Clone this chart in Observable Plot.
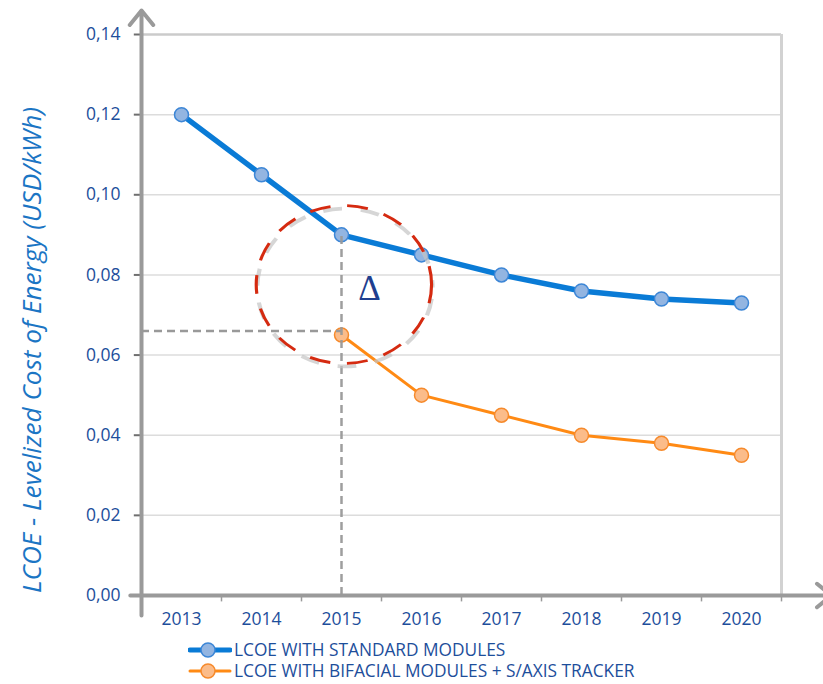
<!DOCTYPE html>
<html><head><meta charset="utf-8">
<script src="https://cdn.jsdelivr.net/npm/d3@7"></script>
<script src="https://cdn.jsdelivr.net/npm/@observablehq/plot@0.6"></script>
<style>
body{margin:0;background:#fff;font-family:"Open Sans",sans-serif;}
#wrap{position:relative;width:823px;height:684px;overflow:hidden;}
.leg{position:absolute;left:188px;height:18px;display:flex;align-items:center;font-size:17.3px;line-height:18px;color:#1d4e9b;white-space:nowrap;}
.leg svg{margin-right:2px;}
#ylab{position:absolute;white-space:nowrap;font-style:italic;color:#1b75c4;font-size:21.5px;line-height:1;transform-origin:0 0;}
</style></head><body><div id="wrap"></div>
<script>
const years = [2013, 2014, 2015, 2016, 2017, 2018, 2019, 2020];
const standard = [0.120, 0.105, 0.090, 0.085, 0.080, 0.076, 0.074, 0.073];
const bifacialYears = [2015, 2016, 2017, 2018, 2019, 2020];
const bifacial = [0.065, 0.050, 0.045, 0.040, 0.038, 0.035];
const yTicks = [0, 0.02, 0.04, 0.06, 0.08, 0.10, 0.12, 0.14];
const seriesNames = ["LCOE WITH STANDARD MODULES", "LCOE WITH BIFACIAL MODULES + S/AXIS TRACKER"];
const seriesColors = ["#0a7bd6", "#ff8a14"];
const dotFill = ["#93b5e1", "#fbbc8a"];
const dotStroke = ["#3d86d6", "#f68a2c"];
const yLabel = "LCOE - Levelized Cost of Energy (USD/kWh)";
const refYear = 2015, refValue = 0.066, refTop = 0.090;
const deltaLabel = "Δ";

const stdData = years.map((x, i) => ({x, y: standard[i]}));
const bifData = bifacialYears.map((x, i) => ({x, y: bifacial[i]}));
const x0 = years[0] - 0.5, x1 = years[years.length - 1] + 0.5;
const bounds = years.map(y => y + 0.5);
const fmt = d => d.toFixed(2).replace(".", ",");
const tickBlue = "#1d4e9b";
const ell = {x: refYear + 0.03, y: 0.0776};

const chart = Plot.plot({
  width: 823, height: 628,
  marginTop: 34, marginBottom: 33, marginLeft: 141, marginRight: 42,
  style: {fontFamily: "'Open Sans', sans-serif", background: "#fff", overflow: "visible"},
  x: {domain: [x0, x1], axis: null},
  y: {domain: [0, 0.14], axis: null},
  marks: [
    Plot.ruleY(yTicks.slice(1, -1), {x1: x0, x2: x1, stroke: "#dcdcdc", strokeWidth: 1.5}),
    Plot.ruleY([yTicks[yTicks.length - 1]], {x1: x0, x2: x1, stroke: "#cbcbcb", strokeWidth: 2.5}),
    Plot.ruleX([x1], {y1: 0, y2: 0.14, stroke: "#d2d2d2", strokeWidth: 3}),
    Plot.ruleX(bounds, {y1: 0, y2: -0.0016, stroke: "#9a9a9a", strokeWidth: 1.5}),
    Plot.ruleY(yTicks, {x1: x0 - 0.09, x2: x0, stroke: "#6f6f6f", strokeWidth: 2}),
    Plot.arrow([{a: 0}], {x1: x0 - 0.14, x2: x1 + 0.625, y1: 0, y2: 0, stroke: "#9a9a9a", strokeWidth: 4, headLength: 7, headAngle: 78}),
    Plot.arrow([{a: 0}], {x1: x0, x2: x0, y1: -0.005, y2: 0.146, stroke: "#9a9a9a", strokeWidth: 4, headLength: 7, headAngle: 78}),
    Plot.line(stdData, {x: "x", y: "y", stroke: seriesColors[0], strokeWidth: 5.5}),
    Plot.line(bifData, {x: "x", y: "y", stroke: seriesColors[1], strokeWidth: 3}),
    Plot.dot(stdData, {x: "x", y: "y", r: 7, fill: dotFill[0], stroke: dotStroke[0], strokeWidth: 1.5}),
    Plot.dot(bifData, {x: "x", y: "y", r: 7, fill: dotFill[1], stroke: dotStroke[1], strokeWidth: 1.5}),
    Plot.ruleY([refValue], {x1: x0, x2: refYear, stroke: "#999", strokeWidth: 2.5, strokeDasharray: "8,5"}),
    Plot.ruleX([refYear], {y1: 0, y2: refTop, stroke: "#999", strokeWidth: 2.5, strokeDasharray: "8,5", strokeOpacity: 0.95}),
    Plot.dot([ell], {x: "x", y: "y", r: 83.5, dx: 1, dy: 3, fill: "none", stroke: "#c4c4c4", strokeWidth: 4, strokeDasharray: "18,18", strokeDashoffset: 24, strokeOpacity: 0.7}),
    Plot.dot([ell], {x: "x", y: "y", r: 83.5, fill: "none", stroke: "#d52a10", strokeWidth: 3, strokeDasharray: "20,16"}),
    Plot.text([deltaLabel], {x: refYear + 0.35, y: 0.0765, text: d => d, fontSize: 35, fill: "#1f3f8f", fontFamily: "'Liberation Serif', serif"}),
    Plot.text(yTicks, {x: x0, y: d => d, text: fmt, textAnchor: "end", dx: -21, fontSize: 17.5, fill: tickBlue}),
    Plot.text(years, {x: d => d, y: 0, text: d => String(d), dy: 24, fontSize: 17.5, fill: tickBlue})
  ]
});

const svg = d3.select(chart);
svg.selectAll("circle").filter(function() { return +this.getAttribute("r") > 50; }).each(function() {
  const c = d3.select(this);
  const cx = +c.attr("cx") || 0, cy = +c.attr("cy") || 0;
  const t = this.getAttribute("transform");
  c.attr("transform", (t ? t + " " : "") + `translate(${cx},${cy}) scale(1.05,0.945) translate(${-cx},${-cy})`);
});
svg.selectAll("circle").filter(function() { return this.getAttribute("stroke") === "#c4c4c4"; }).style("filter", "blur(1.8px)");

const wrap = document.getElementById("wrap");
wrap.appendChild(chart);

const yl = document.createElement("div");
yl.id = "ylab";
yl.textContent = yLabel;
wrap.appendChild(yl);
const targetLen = 486;
const w0 = yl.getBoundingClientRect().width;
yl.style.fontSize = (21.5 * targetLen / w0) + "px";
const w = yl.getBoundingClientRect().width, h = yl.getBoundingClientRect().height;
yl.style.left = (31 - h / 2) + "px";
yl.style.top = (350 + w / 2) + "px";
yl.style.transform = "rotate(-90deg)";

seriesNames.forEach((name, i) => {
  const row = document.createElement("div");
  row.className = "leg";
  row.style.top = (641 + i * 21) + "px";
  row.innerHTML = `<svg width="44" height="18"><line x1="2" x2="42" y1="9" y2="9" stroke="${seriesColors[i]}" stroke-width="${i ? 3 : 5}" stroke-linecap="round"/><circle cx="20" cy="9" r="7" fill="${dotFill[i]}" stroke="${dotStroke[i]}" stroke-width="1.5"/></svg><span>${name}</span>`;
  wrap.appendChild(row);
});
</script></body></html>
